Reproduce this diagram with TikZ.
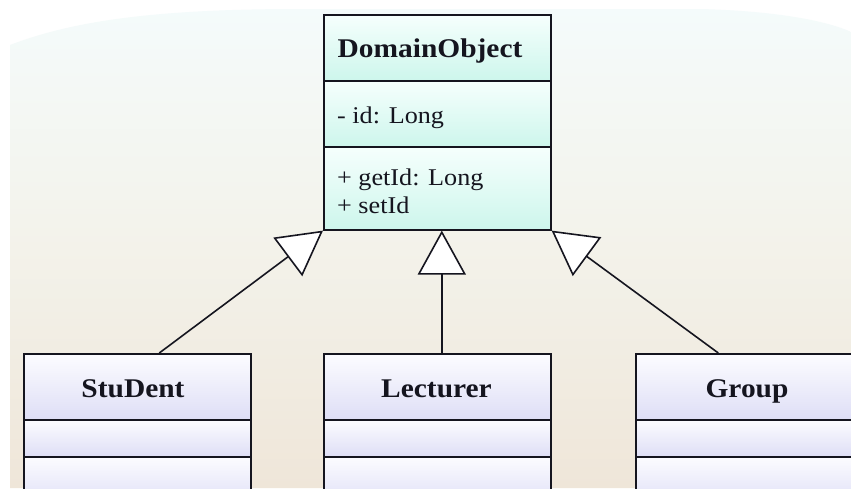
\documentclass[tikz,border=0pt]{standalone}
\usepackage{fontspec}
\setmainfont{Liberation Serif}[FakeStretch=1.09]
\usetikzlibrary{arrows.meta}

\definecolor{bgtop}{HTML}{F4FBFB}
\definecolor{bgmid}{HTML}{F3F2EA}
\definecolor{bgbot}{HTML}{EFE6D9}
\definecolor{cyantop}{HTML}{F6FFFD}
\definecolor{cyanbot}{HTML}{CDF6EC}
\definecolor{lavtop}{HTML}{FCFCFF}
\definecolor{lavbot}{HTML}{DEDEF6}
\definecolor{ink}{HTML}{15151F}

\tikzset{
  base/.style={anchor=north west, rectangle, inner sep=0pt, draw=ink, line width=1.6pt},
  domaincell/.style={base, minimum width=227pt, top color=cyantop, bottom color=cyanbot},
  childcell/.style={base, minimum width=227pt, top color=lavtop, bottom color=lavbot},
  classname/.style={anchor=base, font=\fontsize{27}{30}\selectfont\bfseries, text=ink, inner sep=0pt},
  member/.style={anchor=base west, font=\fontsize{24}{28}\selectfont, text=ink, inner sep=0pt},
  inherits/.style={draw=ink, line width=1.6pt,
    -{Triangle[open, fill=white, length=44pt, width=48pt]}}
}

\begin{document}
\begin{tikzpicture}[x=1pt, y=-1pt]
  \useasboundingbox (0,0) rectangle (851,488);
  \clip (0,0) rectangle (851,488);

  % backdrop: white page with a softly shaded panel
  \fill[white] (0,0) rectangle (851,488);
  \shade[top color=bgtop, bottom color=bgbot, middle color=bgmid]
    (10,488) -- (10,45) .. controls (70,22) and (150,9) .. (300,9)
    -- (700,9) .. controls (780,11) and (830,22) .. (851,32) -- (851,488) -- cycle;

  % DomainObject class
  \node[domaincell, minimum height=66pt] (dohead) at (323,14) {};
  \node[domaincell, minimum height=66pt] (doattr) at (323,80) {};
  \node[domaincell, minimum height=83pt] (doops)  at (323,146) {};
  \node[classname] (doname) at (430,57) {DomainObject};
  \node[member] (doid)  at (337,123) {- id: Long};
  \node[member] (doget) at (337,185) {+ getId: Long};
  \node[member] (doset) at (337,213) {+ setId};

  % subclasses
  \node[childcell, minimum height=66pt] (sthead) at (23,353) {};
  \node[childcell, minimum height=37pt] (stattr) at (23,419) {};
  \node[childcell, minimum height=50pt] (stops)  at (23,456) {};
  \node[classname] (stname) at (133,397) {StuDent};

  \node[childcell, minimum height=66pt] (lehead) at (323,353) {};
  \node[childcell, minimum height=37pt] (leattr) at (323,419) {};
  \node[childcell, minimum height=50pt] (leops)  at (323,456) {};
  \node[classname] (lename) at (436.5,397) {Lecturer};

  \node[childcell, minimum height=66pt] (grhead) at (635,353) {};
  \node[childcell, minimum height=37pt] (grattr) at (635,419) {};
  \node[childcell, minimum height=50pt] (grops)  at (635,456) {};
  \node[classname] (grname) at (747,397) {Group};

  % generalisation arrows
  \draw[inherits] ([xshift=22pt]sthead.north) -- (doops.south west);
  \draw[inherits] ([xshift=4.5pt]lehead.north) -- ([xshift=4.5pt]doops.south);
  \draw[inherits] ([xshift=-31pt]grhead.north) -- (doops.south east);
\end{tikzpicture}
\end{document}
